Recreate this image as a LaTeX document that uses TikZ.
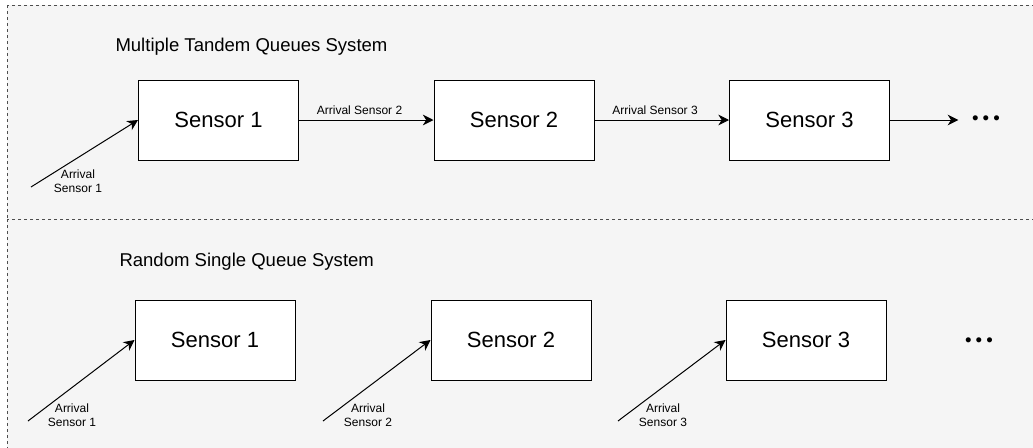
\documentclass[tikz,border=0pt]{standalone}
\usepackage{fontspec}
\setmainfont{Liberation Sans}
\usetikzlibrary{arrows.meta,positioning}
\definecolor{panelfill}{HTML}{F5F5F5}
\definecolor{paneldash}{HTML}{4D4D4D}

\begin{document}
\begin{tikzpicture}[x=0.75pt,y=-0.75pt,->,>={Stealth[length=8pt,width=8pt,inset=2.5pt]},line width=0.75pt,
	panel/.style={-,draw=paneldash,fill=panelfill,dash pattern=on 2.25pt off 2.25pt},
	titlenode/.style={anchor=west,inner sep=0pt,font=\fontsize{13.9}{16}\selectfont},
	sensornode/.style={rectangle,draw,fill=white,minimum width=120pt,minimum height=60pt,inner sep=0pt,font=\fontsize{16.5}{20}\selectfont},
	arrivalnode/.style={align=center,inner sep=0pt,font=\fontsize{9}{10.5}\selectfont},
	edgelabel/.style={above,inner sep=4pt,font=\fontsize{9}{10.5}\selectfont},
	dotsnode/.style={inner sep=0pt,font=\fontsize{14}{18}\selectfont}]
	
	\useasboundingbox (0,0) rectangle (1033,447);
	\clip (0,0) rectangle (1033,447);
	\draw[panel] (7,5) rectangle (1045,219);
	\draw[panel] (7,219) rectangle (1045,460);
	
	% tandem queues
	\node [titlenode] (ttitle) at (115,47) {Multiple Tandem Queues System};
	\node [sensornode] (t1) at (218.5,120) {Sensor 1};
	\node [sensornode] (t2) at (514,120) {Sensor 2};
	\node [sensornode] (t3) at (809.5,120) {Sensor 3};
	\node [dotsnode] (tdots) at (986,120) {•\kern3pt•\kern3pt•};
	\coordinate (ta1) at (31,187);
	\node [arrivalnode] (tl1) at (78,181) {Arrival\\Sensor 1};
	
	\draw (ta1) to (t1.west);
	\draw (t1) to node [edgelabel, pos=0.45] {Arrival Sensor 2} (t2);
	\draw (t2) to node [edgelabel, pos=0.45] {Arrival Sensor 3} (t3);
	\draw [shorten >=10pt] (t3) to (tdots.west);
	
	% single queue
	\node [titlenode] (btitle) at (119,262) {Random Single Queue System};
	\node [sensornode] (b1) at (215,340) {Sensor 1};
	\node [sensornode] (b2) at (511,340) {Sensor 2};
	\node [sensornode] (b3) at (806,340) {Sensor 3};
	\node [dotsnode] (bdots) at (979,342) {•\kern3pt•\kern3pt•};
	\coordinate (ba1) at (28,421);
	\coordinate (ba2) at (323,421);
	\coordinate (ba3) at (618,421);
	\node [arrivalnode] (bl1) at (72,415) {Arrival\\Sensor 1};
	\node [arrivalnode] (bl2) at (368,415) {Arrival\\Sensor 2};
	\node [arrivalnode] (bl3) at (663,415) {Arrival\\Sensor 3};
	
	\draw (ba1) to (b1.west);
	\draw (ba2) to (b2.west);
	\draw (ba3) to (b3.west);

\end{tikzpicture}
\end{document}
